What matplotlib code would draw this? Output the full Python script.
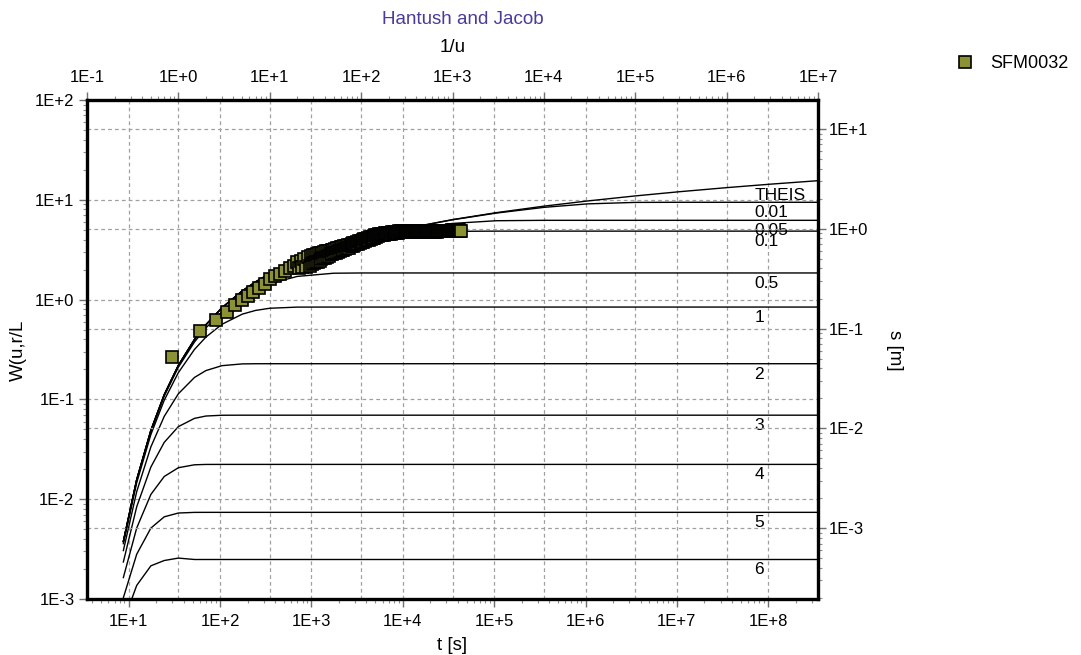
import numpy as np
import matplotlib
matplotlib.use('Agg')
import matplotlib.pyplot as plt
from matplotlib.ticker import LogLocator, FuncFormatter, NullFormatter

plt.rcParams['font.family'] = ['Liberation Sans', 'DejaVu Sans']

# Hantush-Jacob type curves: W(u, r/L) tabulated against 1/u
inv_u = [0.25, 0.35, 0.5, 0.7, 1, 1.5, 2, 3, 5, 7, 10, 20, 50, 100, 300,
         1e3, 3e3, 1e4, 3e4, 1e5, 3e5, 1e6, 3e6, 1e7]

w_theis = [0.003779, 0.01571, 0.04890, 0.1113, 0.2194, 0.3983, 0.5598, 0.8292,
           1.2227, 1.5066, 1.8229, 2.4679, 3.3547, 4.0379, 5.1299, 6.3315,
           7.4295, 8.6332, 9.7323, 10.936, 12.035, 13.238, 14.338, 15.541]
w_001 = [0.003779, 0.01571, 0.04890, 0.1113, 0.2194, 0.3983, 0.5598, 0.8292,
         1.2227, 1.5066, 1.8228, 2.4677, 3.3536, 4.0355, 5.1226, 6.3067,
         7.3561, 8.3983, 9.1022, 9.4176, 9.4424, 9.4425, 9.4425, 9.4425]
w_005 = [0.003779, 0.01571, 0.04890, 0.1113, 0.2193, 0.3981, 0.5594, 0.8284,
         1.2209, 1.5037, 1.8184, 2.4576, 3.3264, 3.9795, 4.9547, 5.7966,
         6.1703, 6.2282, 6.2285, 6.2285, 6.2285, 6.2285, 6.2285, 6.2285]
w_01 = [0.00378, 0.01570, 0.04887, 0.1112, 0.2190, 0.3974, 0.5582, 0.8259,
        1.2155, 1.4952, 1.8048, 2.4265, 3.2443, 3.8150, 4.5145, 4.8292,
        4.8540, 4.8541, 4.8541, 4.8541, 4.8541, 4.8541, 4.8541, 4.8541]
w_05 = [0.003729, 0.01544, 0.04773, 0.1079, 0.2103, 0.3759, 0.5207, 0.7515,
        1.0592, 1.2549, 1.4421, 1.7075, 1.8378, 1.8485, 1.8488, 1.8488,
        1.8488, 1.8488, 1.8488, 1.8488, 1.8488, 1.8488, 1.8488, 1.8488]
w_1 = [0.003584, 0.01465, 0.04444, 0.09809, 0.1855, 0.3167, 0.4210, 0.5661,
       0.7148, 0.7791, 0.8190, 0.8409, 0.8420, 0.8420, 0.8420, 0.8420,
       0.8420, 0.8420, 0.8420, 0.8420, 0.8420, 0.8420, 0.8420, 0.8420]
w_2 = [0.003059, 0.01192, 0.03342, 0.06755, 0.1139, 0.1659, 0.1944, 0.2178,
       0.2268, 0.2277, 0.2278, 0.2278, 0.2278, 0.2278, 0.2278, 0.2278,
       0.2278, 0.2278, 0.2278, 0.2278, 0.2278, 0.2278, 0.2278, 0.2278]
w_3 = [0.00235, 0.0084, 0.0210, 0.0371, 0.05338, 0.06454, 0.06813, 0.06937,
       0.06948, 0.06948, 0.06948, 0.06948, 0.06948, 0.06948, 0.06948, 0.06948,
       0.06948, 0.06948, 0.06948, 0.06948, 0.06948, 0.06948, 0.06948, 0.06948]
w_4 = [0.00164, 0.00515, 0.01116, 0.01688, 0.02068, 0.02212, 0.02230, 0.02232,
       0.02232, 0.02232, 0.02232, 0.02232, 0.02232, 0.02232, 0.02232, 0.02232,
       0.02232, 0.02232, 0.02232, 0.02232, 0.02232, 0.02232, 0.02232, 0.02232]
w_5 = [0.00103, 0.00281, 0.005134, 0.00666, 0.00727, 0.007378, 0.007383, 0.007383,
       0.007383, 0.007383, 0.007383, 0.007383, 0.007383, 0.007383, 0.007383, 0.007383,
       0.007383, 0.007383, 0.007383, 0.007383, 0.007383, 0.007383, 0.007383, 0.007383]
w_6 = [0.00059, 0.001368, 0.00215, 0.00243, 0.00257, 0.002488, 0.002488, 0.002488,
       0.002488, 0.002488, 0.002488, 0.002488, 0.002488, 0.002488, 0.002488, 0.002488,
       0.002488, 0.002488, 0.002488, 0.002488, 0.002488, 0.002488, 0.002488, 0.002488]

curves = [w_theis, w_001, w_005, w_01, w_05, w_1, w_2, w_3, w_4, w_5, w_6]
curve_names = ['THEIS', '0.01', '0.05', '0.1', '0.5', '1', '2', '3', '4', '5', '6']

# SFM0032 observations: time [s] and drawdown [m]
t_obs = [30, 61, 91, 120, 147, 174, 200, 232, 270, 312, 354, 401, 454, 515, 583, 650,
         690, 725, 760, 795, 830, 870, 910, 955,
         1000, 1023, 1047, 1072, 1096, 1122, 1148, 1175, 1202, 1230,
         1259, 1288, 1318, 1349, 1380, 1413, 1445, 1479, 1514, 1549,
         1585, 1622, 1660, 1698, 1738, 1778, 1820, 1862, 1905, 1950,
         1995, 2042, 2089, 2138, 2188, 2239, 2291, 2344, 2399, 2455,
         2512, 2570, 2630, 2692, 2754, 2818, 2884, 2951, 3020, 3090,
         3162, 3236, 3311, 3388, 3467, 3548, 3631, 3715, 3802, 3890,
         3981, 4074, 4169, 4266, 4365, 4467, 4571, 4677, 4786, 4898,
         5012, 5129, 5248, 5370, 5495, 5623, 5754, 5888, 6026, 6166,
         6310, 6457, 6607, 6761, 6918, 7079, 7244, 7413, 7586, 7762,
         7943, 8128, 8318, 8511, 8710, 8913, 9120, 9333, 9550, 9772,
         10000, 10233, 10471, 10715, 10965, 11220, 11482, 11749, 12023, 12303,
         12589, 12882, 13183, 13490, 13804, 14125, 14454, 14791, 15136, 15488,
         15849, 16218, 16596, 16982, 17378, 17783, 18197, 18621, 19055, 19498,
         19953, 20417, 20893, 21380, 21878, 22387, 22909, 23442, 23988, 24547,
         25119, 25704, 26303, 26915, 27542, 28184, 28840, 29512, 30200, 30903,
         31623, 32359, 33113, 33884, 34674, 35481, 36308, 37154, 38019, 38905,
         39811, 40738, 41687, 42658, 43250]
s_obs = [0.0513, 0.0955, 0.123, 0.148, 0.174, 0.195, 0.214, 0.234, 0.257, 0.282,
         0.316, 0.335, 0.355, 0.380, 0.403, 0.422,
         0.460, 0.407, 0.480, 0.410, 0.500, 0.417, 0.521, 0.425,
         0.531, 0.445, 0.540, 0.453, 0.550, 0.461, 0.559, 0.468, 0.568, 0.477,
         0.565, 0.496, 0.574, 0.504, 0.584, 0.513, 0.594, 0.522, 0.604, 0.530,
         0.600, 0.552, 0.610, 0.560, 0.618, 0.568, 0.628, 0.577, 0.637, 0.585,
         0.638, 0.601, 0.649, 0.610, 0.658, 0.619, 0.668, 0.628, 0.678, 0.638,
         0.689, 0.647, 0.690, 0.665, 0.702, 0.675, 0.713, 0.686, 0.725, 0.697,
         0.735, 0.707, 0.747, 0.719, 0.759, 0.730, 0.771, 0.742, 0.784, 0.754,
         0.796, 0.767, 0.809, 0.779, 0.822, 0.791, 0.834, 0.802, 0.845, 0.814,
         0.859, 0.826, 0.871, 0.838, 0.883, 0.856, 0.885, 0.864, 0.891, 0.870,
         0.898, 0.876, 0.904, 0.882, 0.910, 0.887, 0.914, 0.892, 0.921, 0.899,
         0.927, 0.905, 0.933, 0.910, 0.938, 0.915, 0.944, 0.920, 0.946, 0.925,
         0.943, 0.926, 0.943, 0.927, 0.944, 0.927, 0.945, 0.928, 0.945, 0.928,
         0.946, 0.929, 0.947, 0.930, 0.947, 0.930, 0.948, 0.931, 0.949, 0.932,
         0.949, 0.932, 0.950, 0.933, 0.951, 0.934, 0.951, 0.934, 0.952, 0.935,
         0.953, 0.936, 0.954, 0.936, 0.954, 0.937, 0.955, 0.938, 0.956, 0.939,
         0.956, 0.939, 0.957, 0.940, 0.958, 0.941, 0.958, 0.941, 0.959, 0.942,
         0.960, 0.942, 0.960, 0.943, 0.961, 0.944, 0.962, 0.944, 0.962, 0.945,
         0.963, 0.946, 0.964, 0.947, 0.955]

W, H = 1081, 655


def exp_label(v, pos):
    return '1E%+d' % int(round(np.log10(v)))


fig = plt.figure(figsize=(W / 100, H / 100), dpi=100)
ax = fig.add_axes([87 / W, 56 / H, 731 / W, 499 / H])
ax.set_xscale('log')
ax.set_yscale('log')
ax.set_xlim(3.5, 3.5e8)
ax.set_ylim(1e-3, 1e2)

axt = ax.twiny()
axt.set_xscale('log')
axt.set_xlim(0.1, 1e7)

axr = ax.twinx()
axr.set_yscale('log')
axr.set_ylim(1.95e-4, 19.5)

grid_kw = dict(color='#a0a0a0', linestyle=(0, (3, 2.5)), linewidth=0.9)
for axis in [ax.xaxis, ax.yaxis, axt.xaxis, axr.yaxis]:
    axis.set_major_locator(LogLocator(base=10, numticks=20))
    axis.set_minor_locator(LogLocator(base=10, subs=np.arange(2, 10), numticks=20))
    axis.set_major_formatter(FuncFormatter(exp_label))
    axis.set_minor_formatter(NullFormatter())

ax.grid(True, which='major', **grid_kw)
axt.grid(True, which='major', axis='x', **grid_kw)
axr.grid(True, which='major', axis='y', **grid_kw)

for a in (ax, axt, axr):
    a.tick_params(which='major', direction='out', length=6, width=1,
                  color='#707070', labelsize=12)
    a.tick_params(which='minor', direction='out', length=3, width=0.8,
                  color='#909090')
    a.set_axisbelow(True)
ax.tick_params(axis='y', pad=3)
ax.tick_params(axis='x', pad=5)
axt.tick_params(axis='x', pad=5)
axr.tick_params(axis='y', pad=2)

for a in (ax, axt):
    for sp in a.spines.values():
        sp.set_visible(False)
for sp in axr.spines.values():
    sp.set_linewidth(2.4)
    sp.set_color('black')

# type curves with their r/L labels near the right edge
lab_x = 2e6
for w, name in zip(curves, curve_names):
    axt.plot(inv_u, w, color='black', lw=1.0)
    lab_y = 10 ** np.interp(np.log10(lab_x), np.log10(inv_u), np.log10(w))
    axt.annotate(name, xy=(lab_x, lab_y), xytext=(0, -7.5),
                 textcoords='offset points', ha='left', va='center',
                 fontsize=12.5)

pts, = axr.plot(t_obs, s_obs, ls='none', marker='s', ms=9,
                mfc='#8c9234', mec='black', mew=1.2)

fig.legend([pts], ['SFM0032'], loc='center left',
           bbox_to_anchor=(940 / W, 1 - 64 / H), frameon=False,
           fontsize=13, handlelength=1.0, handletextpad=0.9, numpoints=1)

fig.text(463 / W, 1 - 19 / H, 'Hantush and Jacob', color='#4a3c98',
         fontsize=13.5, ha='center', va='center')
fig.text(453 / W, 1 - 47 / H, '1/u', fontsize=13.5, ha='center', va='center')
fig.text(452 / W, 1 - 645 / H, 't [s]', fontsize=13.5, ha='center', va='center')
fig.text(18 / W, 1 - 350 / H, 'W(u,r/L', fontsize=13.5, rotation=90,
         ha='center', va='center')
fig.text(895 / W, 1 - 350 / H, 's [m]', fontsize=13.5, rotation=270,
         ha='center', va='center')

fig.savefig('out.png', dpi=100)
